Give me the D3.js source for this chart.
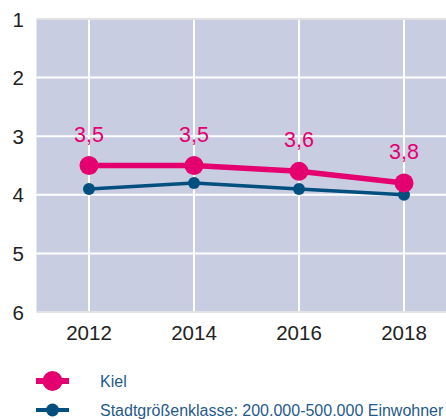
<!DOCTYPE html>
<html>
<head>
<meta charset="utf-8">
<script src="https://cdn.jsdelivr.net/npm/d3@7"></script>
<style>
  body { margin: 0; background: #fff; }
  text { font-family: "Liberation Sans", Arial, sans-serif; }
</style>
</head>
<body>
<svg width="446" height="419"></svg>
<script>
// data
var years = [2012, 2014, 2016, 2018];
var kiel = [3.5, 3.5, 3.6, 3.8];
var klasse = [3.9, 3.8, 3.9, 4.0];
var yTicks = [1, 2, 3, 4, 5, 6];
var seriesNames = ['Kiel', 'Stadtgrößenklasse: 200.000-500.000 Einwohner'];

var pink = '#e4006e', blue = '#004f7e';

var svg = d3.select('svg');
var W = +svg.attr('width');

var x = d3.scaleLinear().domain([2011, 2019]).range([36.5, 456.5]);
var y = d3.scaleLinear().domain([1, 6]).range([19, 312]);

var g = svg.append('g');

// plot background
g.append('rect')
    .attr('x', x(2011)).attr('y', y(1))
    .attr('width', W - x(2011)).attr('height', y(6) - y(1))
    .attr('fill', '#c9cde1');

// gridlines
g.selectAll('.hgrid').data(yTicks.slice(1, -1)).enter().append('line')
    .attr('x1', x(2011)).attr('x2', W)
    .attr('y1', d => y(d)).attr('y2', d => y(d))
    .attr('stroke', '#fff').attr('stroke-width', 2);
g.selectAll('.vgrid').data(years).enter().append('line')
    .attr('x1', d => x(d)).attr('x2', d => x(d))
    .attr('y1', y(1)).attr('y2', y(6))
    .attr('stroke', '#fff').attr('stroke-width', 2);
// top / bottom border
[1, 6].forEach(function(v) {
  g.append('line').attr('x1', x(2011)).attr('x2', W)
    .attr('y1', y(v)).attr('y2', y(v))
    .attr('stroke', '#e2e2e6').attr('stroke-width', 2);
});

// axes labels
g.selectAll('.ytick').data(yTicks).enter().append('text')
    .attr('x', 24).attr('y', d => y(d) + 7.5)
    .attr('text-anchor', 'end').attr('font-size', 20.5).attr('fill', '#222')
    .text(d => d);
g.selectAll('.xtick').data(years).enter().append('text')
    .attr('x', d => x(d)).attr('y', 340)
    .attr('text-anchor', 'middle').attr('font-size', 20.5).attr('fill', '#222')
    .text(d => d);

var line = d3.line().x((d, i) => x(years[i])).y(d => y(d));

// Stadtgrößenklasse
g.append('path').datum(klasse).attr('d', line)
    .attr('fill', 'none').attr('stroke', blue).attr('stroke-width', 3.5);
g.selectAll('.cb').data(klasse).enter().append('circle')
    .attr('cx', (d, i) => x(years[i])).attr('cy', d => y(d)).attr('r', 6)
    .attr('fill', blue);

// Kiel
g.append('path').datum(kiel).attr('d', line)
    .attr('fill', 'none').attr('stroke', pink).attr('stroke-width', 5.5);
g.selectAll('.ck').data(kiel).enter().append('circle')
    .attr('cx', (d, i) => x(years[i])).attr('cy', d => y(d)).attr('r', 9.5)
    .attr('fill', pink);
g.selectAll('.lk').data(kiel).enter().append('text')
    .attr('x', (d, i) => x(years[i])).attr('y', d => y(d) - 24)
    .attr('text-anchor', 'middle').attr('font-size', 21.5).attr('fill', pink)
    .text(d => d3.format('.1f')(d).replace('.', ','));

// legend
var legend = [
  {name: seriesNames[0], color: pink, r: 10, w: 6, y: 381},
  {name: seriesNames[1], color: blue, r: 6.5, w: 4, y: 410}
];
var lg = svg.append('g');
legend.forEach(function(l) {
  lg.append('line').attr('x1', 36).attr('x2', 69).attr('y1', l.y).attr('y2', l.y)
    .attr('stroke', l.color).attr('stroke-width', l.w);
  lg.append('circle').attr('cx', 52.5).attr('cy', l.y).attr('r', l.r).attr('fill', l.color);
  lg.append('text').attr('x', 100).attr('y', l.y + 5.5)
    .attr('font-size', 16).attr('fill', '#1f5a8c').text(l.name);
});
</script>
</body>
</html>
